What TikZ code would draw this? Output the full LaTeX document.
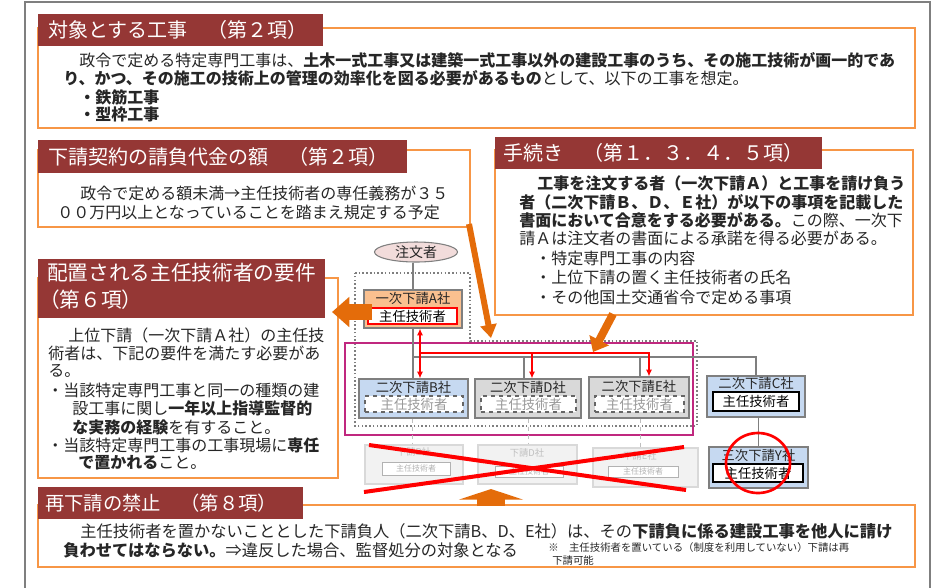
\documentclass[tikz,border=0pt]{standalone}
\usepackage{fontspec}
\setmainfont{Noto Sans CJK JP}
\usetikzlibrary{arrows.meta,shapes.geometric}
\definecolor{dred}{HTML}{953735}
\definecolor{oline}{HTML}{F79646}
\definecolor{oarrow}{HTML}{E46C0A}
\definecolor{txt}{HTML}{262626}
\definecolor{fgray}{HTML}{7F7F7F}
\definecolor{lblue}{HTML}{C6D9F1}
\definecolor{lgray}{HTML}{D9D9D9}
\definecolor{lorange}{HTML}{FAC08F}
\definecolor{lpink}{HTML}{F2DCDB}
\definecolor{magen}{HTML}{C0287F}
\definecolor{xred}{HTML}{FF0000}
\newcommand\fz[1]{\fontsize{#1}{#1}\selectfont}
\tikzset{
  wh/.style 2 args={minimum width=#1*0.75pt,minimum height=#2*0.75pt},
  titlebar/.style={fill=dred,draw=none},
  obox/.style={draw=oline,line width=1.2pt},
  ttl/.style={anchor=west,inner sep=0,text=white},
  tx/.style={anchor=west,inner sep=0,text=txt,font=\fz{12pt}},
  gline/.style={draw=fgray,line width=0.8pt},
  cobox/.style={draw=fgray,line width=0.9pt,inner sep=0},
  lbl/.style={inner sep=0,font=\fz{10pt},text=txt},
  inbox/.style={fill=white,inner sep=0,font=\fz{10pt}},
  fadebox/.style={fill=black!5,draw=black!15,line width=0.8pt,inner sep=0},
  fadetxt/.style={inner sep=0,text=black!25,font=\fz{7pt}},
  fadein/.style={fill=white,draw=black!30,line width=0.6pt,inner sep=0,text=black!30,font=\fz{6pt}},
  redarr/.style={draw=xred,line width=0.9pt,-{Latex[length=5pt,width=4.5pt]}},
  fat/.style={draw=oarrow,line width=#1},
}
\begin{document}
\begin{tikzpicture}[x=0.75pt,y=-0.75pt]
\useasboundingbox (0,0) rectangle (945,587);
\fill[white] (0,0) rectangle (945,587);
% outer frame
\draw[fgray,line width=1pt] (25,600) -- (25,2) -- (930,2) -- (930,600);

% ---------- section 1
\draw[obox] (38,28) rectangle (915,128);
\fill[titlebar] (38,14) rectangle (323,46);
\node[ttl,font=\fz{15pt}] (t1) at (48,30) {対象とする工事　（第２項）};
\node[tx] (s1a) at (79,60) {政令で定める特定専門工事は、\textbf{土木一式工事又は建築一式工事以外の建設工事のうち、その施工技術が画一的であ}};
\node[tx] (s1b) at (63,78) {\textbf{り、かつ、その施工の技術上の管理の効率化を図る必要があるもの}として、以下の工事を想定。};
\node[tx] (s1c) at (79,97) {\textbf{・鉄筋工事}};
\node[tx] (s1d) at (79,114) {\textbf{・型枠工事}};

% ---------- section 2
\draw[obox] (38,150) rectangle (470,227);
\fill[titlebar] (38,140) rectangle (407,173);
\node[ttl,font=\fz{15pt}] (t2) at (48,157) {下請契約の請負代金の額　（第２項）};
\node[tx] (s2a) at (80,193) {政令で定める額未満→主任技術者の専任義務が３５};
\node[tx] (s2b) at (57,212) {００万円以上となっていることを踏まえ規定する予定};

% ---------- section 3
\draw[obox] (38,278) rectangle (338,478);
\fill[titlebar] (38,259) rectangle (325,318);
\node[ttl,font=\fz{15.5pt}] (t3a) at (47,273) {配置される主任技術者の要件};
\node[ttl,font=\fz{15.5pt}] (t3b) at (39,300) {（第６項）};
\node[tx] (s3a) at (52,335) {　上位下請（一次下請Ａ社）の主任技};
\node[tx] (s3b) at (48,353) {術者は、下記の要件を満たす必要があ};
\node[tx] (s3c) at (48,371) {る。};
\node[tx] (s3d) at (47,390) {・当該特定専門工事と同一の種類の建};
\node[tx] (s3e) at (72,408) {設工事に関し\textbf{一年以上指導監督的}};
\node[tx] (s3f) at (72,427) {\textbf{な実務の経験}を有すること。};
\node[tx] (s3g) at (47,445) {・当該特定専門工事の工事現場に\textbf{専任}};
\node[tx] (s3h) at (78,463) {\textbf{で置かれる}こと。};

% ---------- section 4
\draw[obox] (495,150) rectangle (913,315);
\fill[titlebar] (495,137) rectangle (822,169);
\node[ttl,font=\fz{15pt}] (t4) at (503,153) {手続き　（第１．３．４．５項）};
\node[tx] (s4a) at (521,183) {\textbf{　工事を注文する者（一次下請Ａ）と工事を請け負う}};
\node[tx] (s4b) at (519,202) {\textbf{者（二次下請Ｂ、Ｄ、Ｅ社）が以下の事項を記載した}};
\node[tx] (s4c) at (519,220) {\textbf{書面において合意をする必要がある。}この際、一次下};
\node[tx] (s4d) at (519,238) {請Ａは注文者の書面による承諾を得る必要がある。};
\node[tx] (s4e) at (535,258) {・特定専門工事の内容};
\node[tx] (s4f) at (535,277) {・上位下請の置く主任技術者の氏名};
\node[tx] (s4g) at (535,297) {・その他国土交通省令で定める事項};

% ---------- section 5
\draw[obox] (38,505) rectangle (915,567);
\fill[titlebar] (38,487) rectangle (303,519);
\node[ttl,font=\fz{14.5pt}] (t5) at (45,503) {再下請の禁止　（第８項）};
\node[tx,font=\fz{12.2pt}] (s5a) at (80,531) {主任技術者を置かないこととした下請負人（二次下請B、D、E社）は、その\textbf{下請負に係る建設工事を他人に請け}};
\node[tx,font=\fz{12.2pt}] (s5b) at (63,550) {\textbf{負わせてはならない。}⇒違反した場合、監督処分の対象となる};
\node[tx,font=\fz{7.8pt}] (s5c) at (548,548) {※　主任技術者を置いている（制度を利用していない）下請は再};
\node[tx,font=\fz{7.8pt}] (s5d) at (552,561) {下請可能};

% ---------- diagram
% dotted outline
\draw[fgray,line width=1pt,dash pattern=on 1.2pt off 1.6pt] (355,273) -- (470,273) -- (470,341) -- (697,341) -- (697,426) -- (355,426) -- cycle;
% magenta frame
\draw[magen,line width=1.5pt] (345,343) rectangle (693,435);

\node[ellipse,draw=fgray,fill=lpink,line width=0.8pt,wh={83}{20},inner sep=0,font=\fz{10.5pt},text=txt] (ord) at (416,252) {注文者};

\node[cobox,fill=lorange,wh={98}{38}] (A) at (413,309) {};
\node[lbl] (At) at (413,298) {一次下請A社};
\node[inbox,draw=xred,line width=1pt,wh={89}{16}] (Ai) at (412.5,316) {主任技術者};

\node[cobox,fill=lblue,wh={109}{39}] (B) at (413.5,398.5) {};
\node[lbl] (Bt) at (413.5,387) {二次下請B社};
\node[inbox,draw=black!60,dashed,line width=0.8pt,wh={98}{16},text=black!40] (Bi) at (414,404) {主任技術者};

\node[cobox,fill=lgray,wh={106}{39}] (D) at (528,398.5) {};
\node[lbl] (Dt) at (528,387) {二次下請D社};
\node[inbox,draw=black!60,dashed,line width=0.8pt,wh={95}{16},text=black!40] (Di) at (528.5,404) {主任技術者};

\node[cobox,fill=lgray,wh={100}{41}] (E) at (639,397.5) {};
\node[lbl] (Et) at (639,386) {二次下請E社};
\node[inbox,draw=black!60,dashed,line width=0.8pt,wh={89}{16},text=black!40] (Ei) at (639.5,404) {主任技術者};

\node[cobox,fill=lblue,wh={98}{41}] (C) at (756,396.5) {};
\node[lbl] (Ct) at (756,383) {二次下請C社};
\node[inbox,draw=black,line width=1.4pt,wh={86}{19},text=black] (Ci) at (756,401.5) {主任技術者};

\node[cobox,fill=lblue,wh={99}{41}] (Y) at (758.5,467.5) {};
\node[lbl] (Yt) at (758.5,455) {三次下請Y社};
\node[inbox,draw=black,line width=1.4pt,wh={90}{18},text=black] (Yi) at (758,473) {主任技術者};

% gray connectors
\coordinate (busL) at (413,357);
\coordinate (busR) at (756,357);
\draw[gline] (ord.south -| A.north) -- (A.north);
\draw[gline] (A.south) -- (A.south |- B.north);
\draw[gline] (busL) -- (busR) -- (C.north);
\draw[gline] (busL -| 524,0) -- (524,0 |- D.north);
\draw[gline] (busL -| 640,0) -- (640,0 |- E.north);
\draw[gline] (C.south -| Y.north) -- (Y.north);

% red arrows
\coordinate (r0) at (420,353);
\coordinate (r1) at (649,353);
\draw[redarr] (r0) -- (r0 |- A.south);
\draw[redarr] (r0) -- (r0 |- B.north);
\draw[redarr] (r0) -- (r1) -- (r1 |- E.north);
\draw[redarr] (r0 -| 532,0) -- (532,0 |- D.north);

% faded crossed-out boxes
\node[fadebox,wh={98}{39}] (F1) at (414,464.5) {};
\node[fadetxt] (F1t) at (414,452) {下請B社};
\node[fadein,wh={68}{13}] (F1i) at (416,468.5) {主任技術者};
\node[fadebox,wh={99}{39}] (F2) at (527.5,464.5) {};
\node[fadetxt] (F2t) at (527,453) {下請D社};
\node[fadein,wh={68}{11}] (F2i) at (529,471.5) {主任技術者};
\node[fadebox,wh={105}{39}] (F3) at (645.5,467.5) {};
\node[fadetxt] (F3t) at (640,456) {下請E社};
\node[fadein,wh={70}{11}] (F3i) at (643,471.5) {主任技術者};
\draw[black!25,dashed,line width=0.6pt] (B.south -| 412,0) -- (412,0 |- F1.north);
\draw[black!25,dashed,line width=0.6pt] (D.south) -- (D.south |- F2.north);
\draw[black!25,dashed,line width=0.6pt] (E.south -| 640,0) -- (640,0 |- F3.north);
% red X
\coordinate (x1) at (369,445);
\coordinate (x2) at (686,490);
\coordinate (x3) at (364,492);
\coordinate (x4) at (684,447);
\draw[xred,line width=3pt] (x1) -- (x2);
\draw[xred,line width=3pt] (x3) -- (x4);

% red circle
\node[ellipse,draw=xred,line width=2pt,wh={64}{60},inner sep=0] (circ) at (758,463) {};

% orange arrows
\coordinate (a1s) at (469,224);
\coordinate (a1e) at (491,338);
\draw[fat=4.5pt,-{Triangle[length=10pt,width=12pt]}] (a1s) -- (a1e);
\coordinate (a2s) at (613,314);
\coordinate (a2e) at (593,352);
\draw[fat=6pt,-{Triangle[length=10pt,width=16pt]}] (a2s) -- (a2e);
\coordinate (a3s) at (372,312);
\coordinate (a3e) at (332,312);
\draw[fat=12.5pt,-{Triangle[length=13pt,width=22pt]}] (a3s) -- (a3e);
\coordinate (a4s) at (491,506);
\coordinate (a4e) at (491,489);
\draw[fat=21pt,-{Triangle[length=8pt,width=48pt]}] (a4s) -- (a4e);
\end{tikzpicture}
\end{document}
